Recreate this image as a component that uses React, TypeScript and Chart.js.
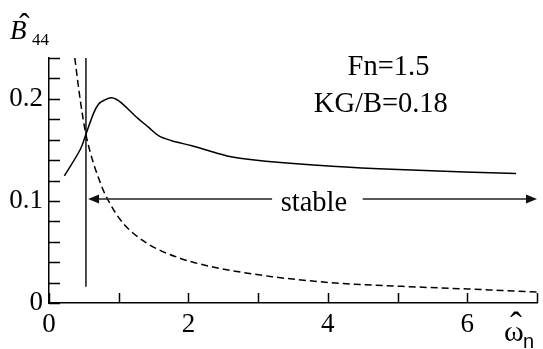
import { useEffect, useRef } from 'react';
import { Chart, registerables } from 'chart.js';

Chart.register(...registerables);

// ---- data ----
const solidX = [0.22, 0.45, 0.53, 0.64, 0.71, 0.79, 0.9, 1.02, 1.24, 1.43, 1.57, 1.76, 2.05, 2.4, 2.63, 3.11, 4.06, 5.01, 5.96, 6.7];
const solidY = [0.1245, 0.1506, 0.1653, 0.186, 0.1947, 0.1986, 0.201, 0.197, 0.183, 0.172, 0.164, 0.159, 0.154, 0.147, 0.143, 0.1389, 0.134, 0.1307, 0.1284, 0.1268];

const dashX = [0.37, 0.45, 0.53, 0.74, 0.87, 1.06, 1.4, 1.87, 2.35, 3.2, 4.11, 5.06, 6.01, 7.0];
const dashY = [0.24, 0.198, 0.165, 0.117, 0.098, 0.0784, 0.0588, 0.0441, 0.0353, 0.0258, 0.0196, 0.0163, 0.0137, 0.0108];

const limitX = [0.53, 0.53];
const limitY = [0.016, 0.24];

const arrowY = 0.102;
const arrowStartX = 0.56;
const arrowEndX = 7;
const stableLabel = 'stable';
const stableX = 3.8;
const stableY = 0.0898;
const stableGap = [3.2, 4.5];

const noteLines = ['Fn=1.5', 'KG/B=0.18'];
const noteX = [4.87, 4.76];
const noteY = [0.2238, 0.1875];

const xMin = 0, xMax = 7, xStep = 1;
const xLabelled = [0, 2, 4, 6];
const yMin = 0, yMax = 0.24, yStep = 0.02;
const yLabelled = ['0', '0.1', '0.2'];

const SERIF = "'Liberation Serif'";
const SANS = "'Liberation Sans'";

const pts = (xs: number[], ys: number[]) => xs.map((x, i) => ({ x, y: ys[i] }));

const decorPlugin = {
  id: 'decor',
  afterDraw(chart: any) {
    const { ctx, chartArea, scales } = chart;
    const xs = scales.x, ys = scales.y;
    ctx.save();
    // inward ticks
    ctx.strokeStyle = '#000';
    ctx.lineWidth = 1.5;
    ctx.beginPath();
    ys.ticks.forEach((t: any) => {
      const p = Math.round(ys.getPixelForValue(t.value)) + 0.5;
      ctx.moveTo(chartArea.left, p);
      ctx.lineTo(chartArea.left + 11, p);
    });
    xs.ticks.forEach((t: any) => {
      const p = Math.round(xs.getPixelForValue(t.value)) + 0.5;
      ctx.moveTo(p, chartArea.bottom);
      ctx.lineTo(p, chartArea.bottom - 10);
    });
    ctx.stroke();

    // arrow
    const ay = ys.getPixelForValue(arrowY);
    const ax0 = xs.getPixelForValue(arrowStartX);
    const ax1 = xs.getPixelForValue(arrowEndX);
    const g0 = xs.getPixelForValue(stableGap[0]);
    const g1 = xs.getPixelForValue(stableGap[1]);
    ctx.strokeStyle = '#222';
    ctx.fillStyle = '#111';
    ctx.lineWidth = 1.5;
    ctx.beginPath();
    ctx.moveTo(ax0 + 8, ay);
    ctx.lineTo(g0, ay);
    ctx.moveTo(g1, ay);
    ctx.lineTo(ax1 - 8, ay);
    ctx.stroke();
    ctx.beginPath();
    ctx.moveTo(ax0, ay);
    ctx.lineTo(ax0 + 11, ay - 4.5);
    ctx.lineTo(ax0 + 11, ay + 4.5);
    ctx.closePath();
    ctx.fill();
    ctx.beginPath();
    ctx.moveTo(ax1, ay);
    ctx.lineTo(ax1 - 11, ay - 4.5);
    ctx.lineTo(ax1 - 11, ay + 4.5);
    ctx.closePath();
    ctx.fill();

    // texts
    ctx.fillStyle = '#000';
    ctx.textBaseline = 'alphabetic';
    ctx.textAlign = 'center';
    ctx.font = `28.5px ${SERIF}`;
    ctx.fillText(stableLabel, xs.getPixelForValue(stableX), ys.getPixelForValue(stableY));
    noteLines.forEach((s, i) => {
      ctx.fillText(s, xs.getPixelForValue(noteX[i]), ys.getPixelForValue(noteY[i]));
    });

    // y-axis title: B-hat 44
    ctx.textAlign = 'left';
    ctx.font = `italic 27px ${SERIF}`;
    ctx.fillText('B', 10, 39);
    ctx.font = `32px ${SERIF}`;
    ctx.fillText('\u02C6', 19, 35);
    ctx.font = `17px ${SERIF}`;
    ctx.fillText('44', 32, 45);

    // x-axis title: omega-hat n
    ctx.font = `30px ${SERIF}`;
    ctx.fillText('\u03C9', 504, 341);
    ctx.font = `36px ${SERIF}`;
    ctx.fillText('\u02C6', 510, 337);
    ctx.font = `20px ${SANS}`;
    ctx.fillText('n', 523, 348);
    ctx.restore();
  },
};

export default function App() {
  const ref = useRef<HTMLCanvasElement | null>(null);
  useEffect(() => {
    if (!ref.current) return;
    const chart = new Chart(ref.current, {
      type: 'line',
      data: {
        datasets: [
          {
            data: pts(solidX, solidY),
            borderColor: '#000',
            borderWidth: 1.5,
            pointRadius: 0,
            tension: 0.35,
            fill: false,
          },
          {
            data: pts(dashX, dashY),
            borderColor: '#000',
            borderWidth: 1.5,
            borderDash: [7, 4],
            pointRadius: 0,
            cubicInterpolationMode: 'monotone',
            fill: false,
          },
          {
            data: pts(limitX, limitY),
            borderColor: '#000',
            borderWidth: 1.4,
            pointRadius: 0,
            fill: false,
          },
        ],
      },
      options: {
        responsive: false,
        animation: false,
        events: [],
        layout: { padding: { top: 58, right: 3, left: 0, bottom: 0 } },
        plugins: { legend: { display: false }, tooltip: { enabled: false }, title: { display: false } },
        scales: {
          x: {
            type: 'linear',
            min: xMin,
            max: xMax,
            border: { display: true, color: '#000', width: 1.5 },
            grid: { display: true, drawOnChartArea: false, drawTicks: false },
            ticks: {
              stepSize: xStep,
              autoSkip: false,
              maxRotation: 0,
              padding: 6,
              color: '#000',
              font: { family: SERIF, size: 27 },
              callback: (v: any) => (xLabelled.includes(Math.round(Number(v))) ? String(Math.round(Number(v))) : ''),
            },
            afterFit: (s: any) => { s.height = 46; },
          },
          y: {
            type: 'linear',
            min: yMin,
            max: yMax,
            border: { display: true, color: '#000', width: 1.5 },
            grid: { display: true, drawOnChartArea: false, drawTicks: false },
            ticks: {
              stepSize: yStep,
              autoSkip: false,
              padding: 6,
              color: '#000',
              font: { family: SERIF, size: 27 },
              callback: (v: any) => {
                const k = Math.round(Number(v) * 100);
                return k % 10 === 0 && k / 10 < yLabelled.length ? yLabelled[k / 10] : '';
              },
            },
            afterFit: (s: any) => { s.width = 49; },
          },
        },
      },
      plugins: [decorPlugin],
    });
    return () => chart.destroy();
  }, []);
  return (
    <div style={{ position: 'absolute', left: 0, top: 0, width: 543, height: 349, background: '#fff' }}>
      <canvas ref={ref} width={543} height={349} />
    </div>
  );
}
